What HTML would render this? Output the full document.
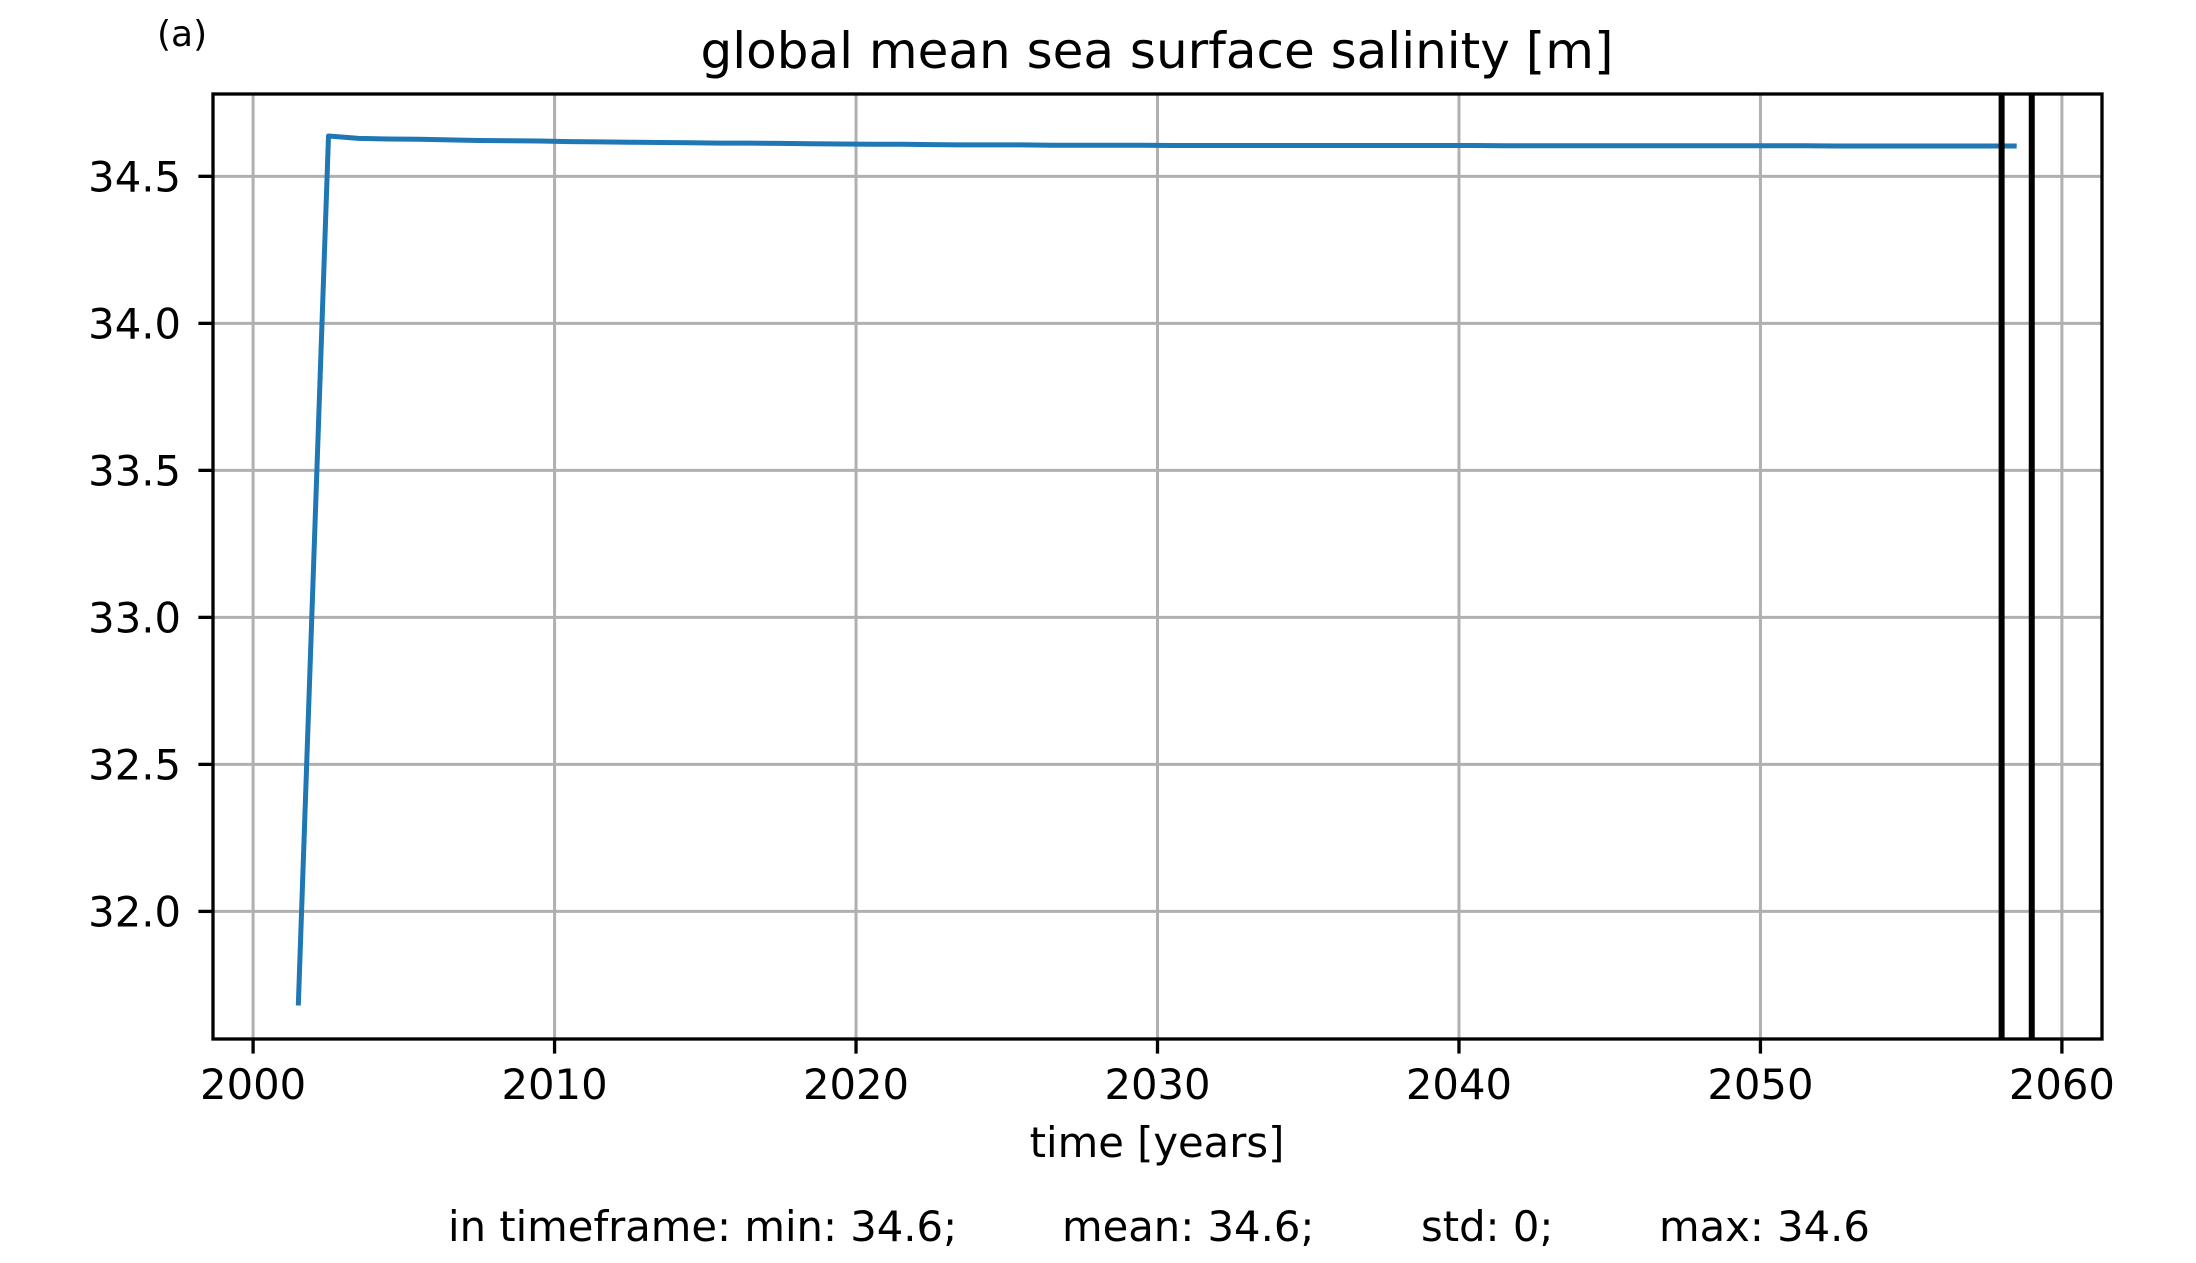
<!DOCTYPE html>
<html><head><meta charset="utf-8"><style>
html,body{margin:0;padding:0;background:#fff;}
svg{display:block;font-family:"DejaVu Sans","Liberation Sans",sans-serif;}
</style></head><body>
<svg id="chart" width="2196" height="1263" viewBox="0 0 2196 1263" xmlns="http://www.w3.org/2000/svg">
<rect width="2196" height="1263" fill="#fff"/>
<g id="grid"></g>
<g id="series"></g>
<g id="axes"></g>
<text x="157" y="46" font-size="36">(a)</text>
<text x="1157" y="68" font-size="50" text-anchor="middle">global mean sea surface salinity [m]</text>
<text x="1157" y="1157" font-size="41.7" text-anchor="middle">time [years]</text>
<g font-size="41.7">
<text x="448" y="1241">in timeframe: min: 34.6;</text>
<text x="1062" y="1241">mean: 34.6;</text>
<text x="1421" y="1241">std: 0;</text>
<text x="1659" y="1241">max: 34.6</text>
</g>
</svg>
<script>
const years = [2001.5,2002.5,2003.5,2004.5,2005.5,2006.5,2007.5,2008.5,2009.5,2010.5,2011.5,2012.5,2013.5,2014.5,2015.5,2016.5,2017.5,2018.5,2019.5,2020.5,2021.5,2022.5,2023.5,2024.5,2025.5,2026.5,2027.5,2028.5,2029.5,2030.5,2031.5,2032.5,2033.5,2034.5,2035.5,2036.5,2037.5,2038.5,2039.5,2040.5,2041.5,2042.5,2043.5,2044.5,2045.5,2046.5,2047.5,2048.5,2049.5,2050.5,2051.5,2052.5,2053.5,2054.5,2055.5,2056.5,2057.5,2058.5];
const salinity = [31.68,34.637,34.629,34.627,34.626,34.624,34.622,34.621,34.620,34.618,34.617,34.616,34.615,34.614,34.613,34.613,34.612,34.611,34.610,34.609,34.609,34.608,34.607,34.607,34.607,34.606,34.606,34.606,34.606,34.605,34.605,34.605,34.605,34.605,34.605,34.605,34.605,34.605,34.605,34.605,34.604,34.604,34.604,34.604,34.604,34.604,34.604,34.604,34.604,34.604,34.604,34.603,34.603,34.603,34.603,34.603,34.603,34.603];
const markerYears = [2058.0, 2059.0];
const xTicks = [2000,2010,2020,2030,2040,2050,2060];
const yTicks = [32.0,32.5,33.0,33.5,34.0,34.5];
const yTickLabels = ["32.0","32.5","33.0","33.5","34.0","34.5"];

const L=213,R=2102,T=94,B=1039;
const xmin=1998.67,xmax=2061.33,ymin=31.566,ymax=34.78;
const X=v=>L+(v-xmin)/(xmax-xmin)*(R-L);
const Y=v=>B-(v-ymin)/(ymax-ymin)*(B-T);
const NS="http://www.w3.org/2000/svg";
function mk(tag,attrs,parent){const e=document.createElementNS(NS,tag);for(const k in attrs)e.setAttribute(k,attrs[k]);parent.appendChild(e);return e;}
const grid=document.getElementById('grid'),series=document.getElementById('series'),axes=document.getElementById('axes');

xTicks.forEach((t,i)=>{
  const x=X(t);
  const g=mk('line',{x1:x,x2:x,y1:T,y2:B,stroke:'#b0b0b0','stroke-width':3},grid);
  
  
  const tk=mk('line',{x1:x,x2:x,y1:B,y2:B+14.6,stroke:'#000','stroke-width':3.3},axes);
  
  
  const tx=mk('text',{x:x,y:1099,'font-size':41.7,'text-anchor':'middle'},axes);
  tx.textContent=String(t);
  
  
});
yTicks.forEach((t,i)=>{
  const y=Y(t);
  const g=mk('line',{x1:L,x2:R,y1:y,y2:y,stroke:'#b0b0b0','stroke-width':3},grid);
  
  
  const tk=mk('line',{x1:L-14.6,x2:L,y1:y,y2:y,stroke:'#000','stroke-width':3.3},axes);
  
  
  const tx=mk('text',{x:181,y:y+15,'font-size':41.7,'text-anchor':'end'},axes);
  tx.textContent=yTickLabels[i];
  
  
});
const pts=years.map((yr,i)=>X(yr).toFixed(1)+','+Y(salinity[i]).toFixed(1)).join(' ');
const line=mk('polyline',{points:pts,fill:'none',stroke:'#1f77b4','stroke-width':5,'stroke-linejoin':'round'},series);


markerYears.forEach(m=>{
  const v=mk('line',{x1:X(m),x2:X(m),y1:T,y2:B,stroke:'#000','stroke-width':6},series);
  
  
});
const frame=mk('rect',{x:L,y:T,width:R-L,height:B-T,fill:'none',stroke:'#000','stroke-width':3.3},axes);


</script>
</body></html>
